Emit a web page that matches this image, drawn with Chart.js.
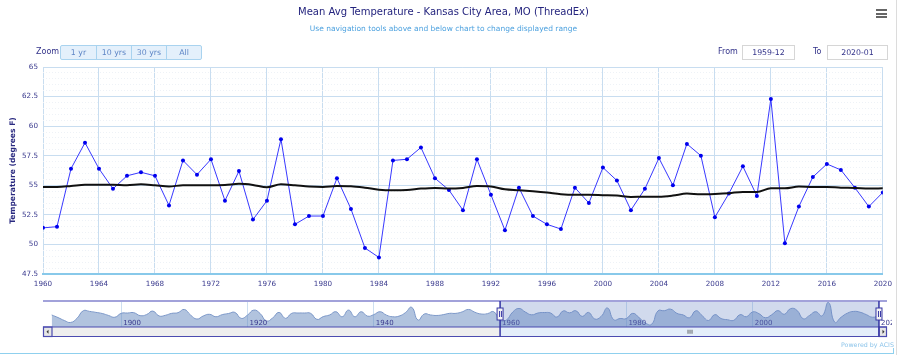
<!DOCTYPE html>
<html><head><meta charset="utf-8">
<script src="https://cdn.jsdelivr.net/npm/chart.js@4.4.1/dist/chart.umd.min.js"></script>
<style>
html,body{margin:0;padding:0;background:#fff;width:898px;height:355px;overflow:hidden;font-family:"DejaVu Sans",sans-serif;}
#wrap{position:relative;width:898px;height:355px;}
canvas{position:absolute;left:0;}
#main{top:0}
#nav{top:290px}
.abs{position:absolute;white-space:nowrap;}
.btn{position:absolute;top:45px;height:15px;box-sizing:border-box;border:1px solid #a9d3ef;background:#e4f0fb;color:#5f86c6;font-size:7.8px;line-height:13px;text-align:center;}
.box{position:absolute;top:45px;height:15px;box-sizing:border-box;border:1px solid #d6d6d6;background:#fff;color:#33338a;font-size:7.8px;line-height:13px;text-align:center;}
.lbl{position:absolute;top:46px;font-size:8px;line-height:12px;color:#33338a;}
.bar{position:absolute;left:876px;width:11px;height:2px;background:#666;}
</style></head>
<body><div id="wrap">
<canvas id="main" width="898" height="296"></canvas>
<canvas id="nav" width="892" height="50"></canvas>
<div class="lbl" style="left:36px">Zoom</div>
<div class="btn" style="left:60px;width:37px;border-radius:2px 0 0 2px">1 yr</div>
<div class="btn" style="left:96px;width:36px">10 yrs</div>
<div class="btn" style="left:131px;width:36px">30 yrs</div>
<div class="btn" style="left:166px;width:36px;border-radius:0 2px 2px 0">All</div>
<div class="lbl" style="left:718px">From</div>
<div class="box" style="left:742px;width:53px">1959-12</div>
<div class="lbl" style="left:813px">To</div>
<div class="box" style="left:827px;width:61px">2020-01</div>
<div class="bar" style="top:9px"></div>
<div class="bar" style="top:12.5px"></div>
<div class="bar" style="top:16px"></div>
<div class="abs" style="left:841px;top:341px;font-size:6.3px;color:#8cc4ea">Powered by ACIS</div>
<div class="abs" style="left:0;top:353px;width:894px;height:1px;background:#8fd0ee"></div>
<div class="abs" style="left:893px;top:348px;width:1px;height:6px;background:#8fd0ee"></div>
<div class="abs" style="left:896px;top:0;width:1px;height:355px;background:#dcdcdc"></div>
</div>
<script>
const TITLE = 'Mean Avg Temperature - Kansas City Area, MO (ThreadEx)';
const SUBTITLE = 'Use navigation tools above and below chart to change displayed range';
const Y_TITLE = 'Temperature (degrees F)';

const years = [1960,1961,1962,1963,1964,1965,1966,1967,1968,1969,1970,1971,1972,1973,1974,1975,1976,1977,1978,1979,
1980,1981,1982,1983,1984,1985,1986,1987,1988,1989,1990,1991,1992,1993,1994,1995,1996,1997,1998,1999,
2000,2001,2002,2003,2004,2005,2006,2007,2008,2009,2010,2011,2012,2013,2014,2015,2016,2017,2018,2019,2020];

const meanAvgTemp = [51.4,51.5,56.4,58.6,56.4,54.7,55.8,56.1,55.8,53.3,57.1,55.9,57.2,53.7,56.2,52.1,53.7,58.9,51.7,52.4,
52.4,55.6,53.0,49.7,48.9,57.1,57.2,58.2,55.6,54.6,52.9,57.2,54.2,51.2,54.8,52.4,51.7,51.3,54.8,53.5,
56.5,55.4,52.9,54.7,57.3,55.0,58.5,57.5,52.3,54.3,56.6,54.1,62.3,50.1,53.2,55.7,56.8,56.3,54.8,53.2,54.4];

const runningMean = [54.86,54.86,54.94,55.05,55.05,55.05,55.00,55.08,55.00,54.90,55.00,55.00,55.00,55.03,55.12,55.03,54.83,55.08,55.00,54.90,
54.86,54.94,54.92,54.80,54.63,54.58,54.60,54.72,54.78,54.72,54.78,54.94,54.90,54.66,54.58,54.49,54.38,54.24,54.19,54.19,
54.16,54.13,54.02,54.04,54.04,54.13,54.30,54.24,54.27,54.33,54.44,54.44,54.75,54.75,54.89,54.86,54.86,54.80,54.78,54.72,54.75];

// earlier history shown only in the navigator (read from the navigator strip)
const navEarlyYears = [1889,1890,1891,1892,1893,1894,1895,1896,1897,1898,1899,1900,1901,1902,1903,1904,1905,1906,1907,1908,1909,
1910,1911,1912,1913,1914,1915,1916,1917,1918,1919,1920,1921,1922,1923,1924,1925,1926,1927,1928,1929,
1930,1931,1932,1933,1934,1935,1936,1937,1938,1939,1940,1941,1942,1943,1944,1945,1946,1947,1948,1949,
1950,1951,1952,1953,1954,1955,1956,1957,1958,1959];
const navEarlyTemp = [54.6,53.0,51.2,50.0,52.5,57.2,56.8,56.2,55.5,54.3,53.2,55.6,55.8,56.0,54.2,54.8,57.0,54.0,54.4,55.6,56.0,
58.0,54.5,52.1,54.0,55.0,53.5,54.8,55.5,56.2,52.5,54.5,57.6,55.5,50.9,52.8,56.2,52.5,55.6,55.8,55.8,
55.6,51.9,53.6,54.6,56.6,53.5,57.6,53.5,56.6,53.9,54.8,56.6,54.5,53.5,53.9,56.0,59.3,51.5,55.2,54.6,
54.3,54.8,55.6,55.6,56.5,58.0,56.3,55.2,55.4,56.6];

const xTicks = [1960,1964,1968,1972,1976,1980,1984,1988,1992,1996,2000,2004,2008,2012,2016,2020];
const yTicks = [47.5,50,52.5,55,57.5,60,62.5,65];
const yMinorTicks = [47.5,48,48.5,49,49.5,50,50.5,51,51.5,52,52.5,53,53.5,54,54.5,55,55.5,56,56.5,57,57.5,58,58.5,59,59.5,60,60.5,61,61.5,62,62.5,63,63.5,64,64.5,65];
const navTicks = [1900,1920,1940,1960,1980,2000,2020];
const selFrom = 1960, selTo = 2020;

const F = '"DejaVu Sans", sans-serif';
const NAVY = '#3a3a8e';
const GRID = '#c8ddf0';

new Chart(document.getElementById('main'), {
  type: 'line',
  data: {
    datasets: [
      { label: 'Mean Avg Temperature', data: years.map((y, i) => ({x: y, y: meanAvgTemp[i]})),
        borderColor: '#3838ff', borderWidth: 1, pointRadius: 2, pointBackgroundColor: '#0000ee',
        pointBorderWidth: 0, tension: 0, order: 2 },
      { label: 'Running mean', data: years.map((y, i) => ({x: y, y: runningMean[i]})),
        borderColor: '#111111', borderWidth: 2, pointRadius: 0, tension: 0.4, cubicInterpolationMode: 'monotone', order: 1 }
    ]
  },
  options: {
    responsive: false, animation: false, devicePixelRatio: 1,
    layout: { padding: { left: 0, right: 11, top: 0, bottom: 0 } },
    plugins: {
      legend: { display: false }, tooltip: { enabled: false },
      title: { display: true, text: TITLE, color: '#24247e', font: { family: F, size: 10, lineHeight: 1.2, weight: 'normal' }, padding: { top: 6, bottom: 6.5 } },
      subtitle: { display: true, text: SUBTITLE, color: '#4ea2df', font: { family: F, size: 7.5, lineHeight: 1.2 }, padding: { top: 0, bottom: 33.5 } }
    },
    scales: {
      x: { type: 'linear', min: 1960, max: 2020,
        afterBuildTicks: s => { s.ticks = xTicks.map(v => ({ value: v })); },
        afterFit: s => { s.height = 22; },
        grid: { color: GRID, drawTicks: false },
        border: { color: '#88c9ea', width: 2 },
        ticks: { padding: 6, color: NAVY, font: { family: F, size: 7.2 }, maxRotation: 0, callback: v => String(v) } },
      yMinor: { position: 'left', min: 47.5, max: 65,
        afterBuildTicks: s => { s.ticks = yMinorTicks.map(v => ({ value: v })); },
        afterFit: s => { s.width = 0; },
        ticks: { display: false }, grid: { color: '#eef2f7', drawTicks: false, borderDash: [1, 2] },
        border: { display: false, dash: [1, 2] } },
      y: { position: 'left', min: 47.5, max: 65,
        afterBuildTicks: s => { s.ticks = yTicks.map(v => ({ value: v })); },
        afterFit: s => { s.width = 43; },
        grid: { color: GRID, drawTicks: false },
        border: { display: false },
        ticks: { padding: 5, color: NAVY, font: { family: F, size: 7.2 }, callback: v => String(v) },
        title: { display: true, text: Y_TITLE, color: '#2a2a80', font: { family: F, size: 7.6, weight: 'bold', lineHeight: 1.2 }, padding: { top: 8, bottom: 0 } } }
    }
  }
});

const navDecor = {
  id: 'navDecor',
  afterDatasetsDraw(chart) {
    const { ctx, chartArea: a, scales: { x } } = chart;
    const x0 = x.getPixelForValue(selFrom), x1 = x.getPixelForValue(selTo);
    const line = (ax, ay, bx, by) => { ctx.beginPath(); ctx.moveTo(ax, ay); ctx.lineTo(bx, by); ctx.stroke(); };
    ctx.save();
    // navigator axis labels inside the strip
    ctx.fillStyle = NAVY; ctx.font = '7px ' + F; ctx.textAlign = 'left'; ctx.textBaseline = 'alphabetic';
    for (const v of navTicks) ctx.fillText(String(v), x.getPixelForValue(v) + 2, a.bottom - 2);
    ctx.fillStyle = 'rgba(102,133,194,0.3)';
    ctx.fillRect(x0, a.top, x1 - x0, a.bottom - a.top);
    ctx.strokeStyle = '#a2a2da'; ctx.lineWidth = 2; line(a.left, a.top, a.right, a.top);
    const sT = a.bottom, sB = a.bottom + 9.5;
    ctx.fillStyle = '#eeeeee'; ctx.fillRect(a.left, sT, a.right - a.left, sB - sT);
    ctx.fillStyle = '#e4eefa'; ctx.fillRect(x0, sT, x1 - x0, sB - sT);
    ctx.fillStyle = '#e6e6e6';
    ctx.fillRect(a.left, sT, 9, sB - sT); ctx.fillRect(x1, sT, a.right - x1, sB - sT);
    ctx.strokeStyle = '#4b4bb0'; ctx.lineWidth = 1.2;
    line(a.left, a.bottom, a.right, a.bottom);
    line(a.left, sB, a.right, sB);
    ctx.strokeRect(a.left + 0.5, sT, 8.5, sB - sT);
    ctx.strokeRect(x1, sT, a.right - x1 - 0.5, sB - sT);
    ctx.strokeStyle = '#3636a4'; ctx.lineWidth = 1.5;
    line(x0, a.top, x0, sB); line(x1, a.top, x1, sB);
    ctx.fillStyle = '#333';
    const cy = (sT + sB) / 2;
    ctx.beginPath(); ctx.moveTo(a.left + 3.5, cy); ctx.lineTo(a.left + 5.5, cy - 2); ctx.lineTo(a.left + 5.5, cy + 2); ctx.fill();
    const rc = (x1 + a.right) / 2;
    ctx.beginPath(); ctx.moveTo(rc + 1.5, cy); ctx.lineTo(rc - 0.5, cy - 2); ctx.lineTo(rc - 0.5, cy + 2); ctx.fill();
    const gc = (x0 + x1) / 2;
    ctx.strokeStyle = '#444'; ctx.lineWidth = 0.8;
    for (const d of [-2, 0, 2]) line(gc + d + 0.5, cy - 2, gc + d + 0.5, cy + 2);
    const hy = (a.top + a.bottom) / 2;
    for (const hx of [x0, x1]) {
      ctx.fillStyle = '#f4f4f4'; ctx.strokeStyle = '#3636a4'; ctx.lineWidth = 1;
      ctx.fillRect(hx - 3, hy - 6, 6, 12); ctx.strokeRect(hx - 3, hy - 6, 6, 12);
      line(hx - 0.5, hy - 3, hx - 0.5, hy + 3); line(hx + 1.5, hy - 3, hx + 1.5, hy + 3);
    }
    ctx.restore();
  }
};

const navYears = navEarlyYears.concat(years);
const navTemp = navEarlyTemp.concat(meanAvgTemp);
new Chart(document.getElementById('nav'), {
  type: 'line',
  data: { datasets: [{ data: navYears.map((y, i) => ({ x: y, y: navTemp[i] })),
    borderColor: '#7b97c8', borderWidth: 1, backgroundColor: 'rgba(100,135,190,0.5)',
    fill: 'start', pointRadius: 0, tension: 0.5 }] },
  options: {
    responsive: false, animation: false, devicePixelRatio: 1,
    layout: { padding: { left: 43, right: 5, top: 11, bottom: 13 } },
    plugins: { legend: { display: false }, tooltip: { enabled: false } },
    scales: {
      x: { type: 'linear', min: 1887.62, max: 2021.27,
        afterBuildTicks: s => { s.ticks = navTicks.map(v => ({ value: v })); },
        afterFit: s => { s.height = 0; },
        grid: { color: 'rgba(200,220,240,0.9)', drawTicks: false }, border: { display: false },
        ticks: { display: false } },
      y: { display: false, min: 47.2, max: 63.2 }
    }
  },
  plugins: [navDecor]
});
</script>
</body></html>
